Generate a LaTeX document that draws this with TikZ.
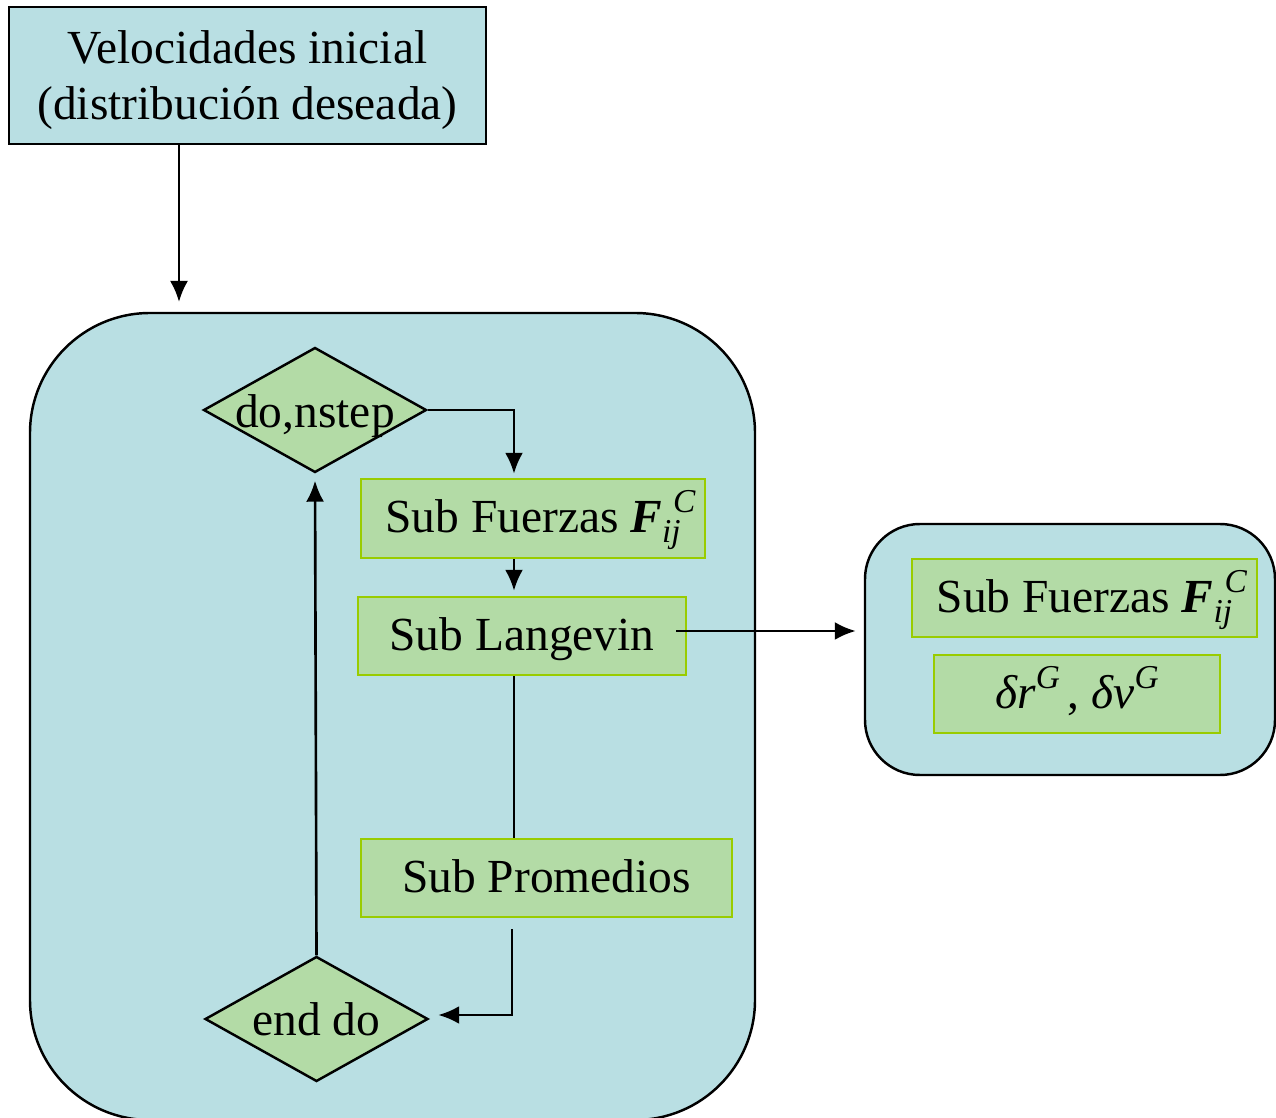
\documentclass[tikz,border=0pt]{standalone}
\usepackage{fontspec}
\setmainfont{Liberation Serif}
\usepackage{tikz}
\usetikzlibrary{positioning}
\usetikzlibrary{calc}
\usetikzlibrary{shapes.geometric}
\usetikzlibrary{arrows.meta}

\definecolor{panelblue}{RGB}{185,223,227}
\definecolor{boxgreen}{RGB}{179,219,166}
\definecolor{boxedge}{RGB}{153,204,0}

\newcommand{\chico}{\fontsize{9.5}{9.5}\selectfont\itshape}
\newcommand{\fuerzaC}{\textbf{\textit{F}}\smash{\rlap{\hspace{0.11cm}\raisebox{0.2cm}{\chico C}}\raisebox{-0.1cm}{\chico ij}}}
\newcommand{\supG}{\smash{\raisebox{0.2cm}{\chico G}}}

\tikzset{
    panel/.style={draw=black, line width=0.7pt, fill=panelblue},
    subbox/.style={draw=boxedge, line width=0.7pt, fill=boxgreen, inner sep=0pt,
        text height=9.5pt, text depth=1.5pt},
    decision/.style={diamond, draw=black, line width=0.7pt, fill=boxgreen, inner sep=0pt,
        minimum width=2.23cm, minimum height=1.25cm},
    conn/.style={line width=0.75pt, -{Latex[length=2.1mm, width=1.8mm]}},
    link/.style={line width=0.75pt}
}

\begin{document}
\begin{tikzpicture}[font=\fontsize{13.5}{16}\selectfont]
    \useasboundingbox (0,0) rectangle (12.76,-11.18);

    % contenedores
    \node[panel, rounded corners=1.2cm, minimum width=7.25cm, minimum height=8.07cm] (loop) at (3.925,-7.165) {};
    \node[panel, rounded corners=0.55cm, minimum width=4.10cm, minimum height=2.51cm] (side) at (10.70,-6.495) {};

    \node[panel, minimum width=4.77cm, minimum height=1.37cm, align=center] (init) at (2.475,-0.755)
        {\rule{0pt}{12pt}Velocidades inicial\\(distribución deseada)};

    \node[decision, label={[yshift=-0.06cm]center:do,nstep}] (dostep) at (3.15,-4.10) {};
    \node[subbox, minimum width=3.44cm, minimum height=0.79cm] (fuerzas) at (5.33,-5.185) {Sub Fuerzas \fuerzaC};
    \node[subbox, minimum width=3.28cm, minimum height=0.78cm] (lang) at (5.22,-6.36) {Sub Langevin};
    \node[subbox, minimum width=3.71cm, minimum height=0.78cm] (prom) at (5.465,-8.78) {Sub Promedios};
    \node[decision, label=center:{end do}] (enddo) at (3.165,-10.19) {};

    \node[subbox, minimum width=3.45cm, minimum height=0.78cm] (fuerzasB) at (10.845,-5.98) {Sub Fuerzas \fuerzaC};
    \node[subbox, minimum width=2.86cm, minimum height=0.78cm] (desp) at (10.77,-6.94)
        {\textit{δr}\supG\,, \textit{δv}\supG};

    \coordinate (entry) at (1.79,-3.02);
    \coordinate (turn) at (5.14,-4.10);
    \coordinate (langout) at (6.76,-6.31);

    % conectores
    \draw[conn] (init.south -| entry) -- (entry);
    \draw[conn, shorten >=0.4mm] (dostep.east) -- (turn) -- (turn |- fuerzas.north);
    \draw[conn, shorten >=0.5mm] (fuerzas.south -| turn) -- (turn |- lang.north);
    \draw[link] (lang.south -| turn) -- (turn |- prom.north);
    \draw[conn, shorten >=0.9mm] ($(prom.south -| turn)+(-0.02,-0.11)$) |- ($(enddo.east)+(0,0.04)$);
    \draw[conn, shorten >=0.7mm] (enddo.north) -- (dostep.south);
    \draw[conn, shorten >=0.8mm] (langout) -- (langout -| side.west);
\end{tikzpicture}
\end{document}
